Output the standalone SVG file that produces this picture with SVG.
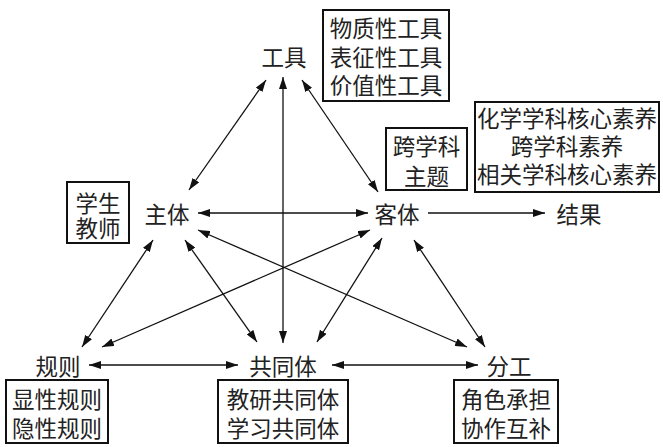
<svg xmlns="http://www.w3.org/2000/svg" width="663" height="447" viewBox="0 0 663 447">
<defs>
<style>
text{font-family:"Noto Sans CJK SC","Noto Sans CJK JP",sans-serif;font-size:22.5px;fill:#222;text-anchor:middle;dominant-baseline:central}
.box{fill:#fff;stroke:#111;stroke-width:2}
.c line{stroke:#111;stroke-width:1.3;marker-end:url(#ah)}
.c line.b{marker-start:url(#ahs)}
</style>
<marker id="ah" viewBox="0 0 12 8" refX="12" refY="4" markerWidth="12" markerHeight="8" markerUnits="userSpaceOnUse" orient="auto"><path d="M0,0L12,4L0,8z" fill="#111"/></marker>
<marker id="ahs" viewBox="0 0 12 8" refX="12" refY="4" markerWidth="12" markerHeight="8" markerUnits="userSpaceOnUse" orient="auto-start-reverse"><path d="M0,0L12,4L0,8z" fill="#111"/></marker>
</defs>
<rect width="663" height="447" fill="#fff"/>
<g class="c" id="connectors">
<line class="b" x1="189" y1="190" x2="266" y2="80"/>
<line class="b" x1="378" y1="192" x2="302" y2="80"/>
<line class="b" x1="283" y1="343" x2="283" y2="77"/>
<line class="b" x1="198" y1="213" x2="368" y2="213"/>
<line x1="428" y1="213" x2="545" y2="213"/>
<line class="b" x1="153" y1="240" x2="82" y2="347"/>
<line class="b" x1="185" y1="240" x2="257" y2="342"/>
<line class="b" x1="198" y1="230" x2="467" y2="347"/>
<line class="b" x1="370" y1="230" x2="102" y2="347"/>
<line class="b" x1="382" y1="238" x2="317" y2="342"/>
<line class="b" x1="414" y1="240" x2="485" y2="347"/>
<line class="b" x1="89" y1="365" x2="238" y2="365"/>
<line class="b" x1="332" y1="365" x2="478" y2="365"/>
</g>
<g id="tool"><text x="284" y="56">工具</text></g>
<g id="tool-box"><rect class="box" x="323" y="10" width="126" height="91"/>
<text x="386" y="27">物质性工具</text><text x="386" y="56">表征性工具</text><text x="386" y="84">价值性工具</text></g>
<g id="subject"><text x="167" y="213">主体</text></g>
<g id="subject-box"><rect class="box" x="67" y="182" width="62" height="61"/>
<text x="98" y="202">学生</text><text x="98" y="227">教师</text></g>
<g id="object"><text x="397" y="213">客体</text></g>
<g id="object-box"><rect class="box" x="386" y="128" width="81" height="62"/>
<text x="426.5" y="145">跨学科</text><text x="426.5" y="175">主题</text></g>
<g id="object-box2"><rect class="box" x="475" y="102" width="184" height="90"/>
<text x="567" y="117">化学学科核心素养</text><text x="567" y="145">跨学科素养</text><text x="567" y="173">相关学科核心素养</text></g>
<g id="result"><text x="579" y="213">结果</text></g>
<g id="rules"><text x="58" y="365">规则</text></g>
<g id="rules-box"><rect class="box" x="6" y="380" width="102" height="63"/>
<text x="57" y="398">显性规则</text><text x="57" y="427">隐性规则</text></g>
<g id="community"><text x="283" y="365">共同体</text></g>
<g id="community-box"><rect class="box" x="218" y="380" width="130" height="63"/>
<text x="283" y="398">教研共同体</text><text x="283" y="427">学习共同体</text></g>
<g id="division"><text x="509" y="365">分工</text></g>
<g id="division-box"><rect class="box" x="454" y="380" width="104" height="63"/>
<text x="506" y="398">角色承担</text><text x="506" y="427">协作互补</text></g>
</svg>
